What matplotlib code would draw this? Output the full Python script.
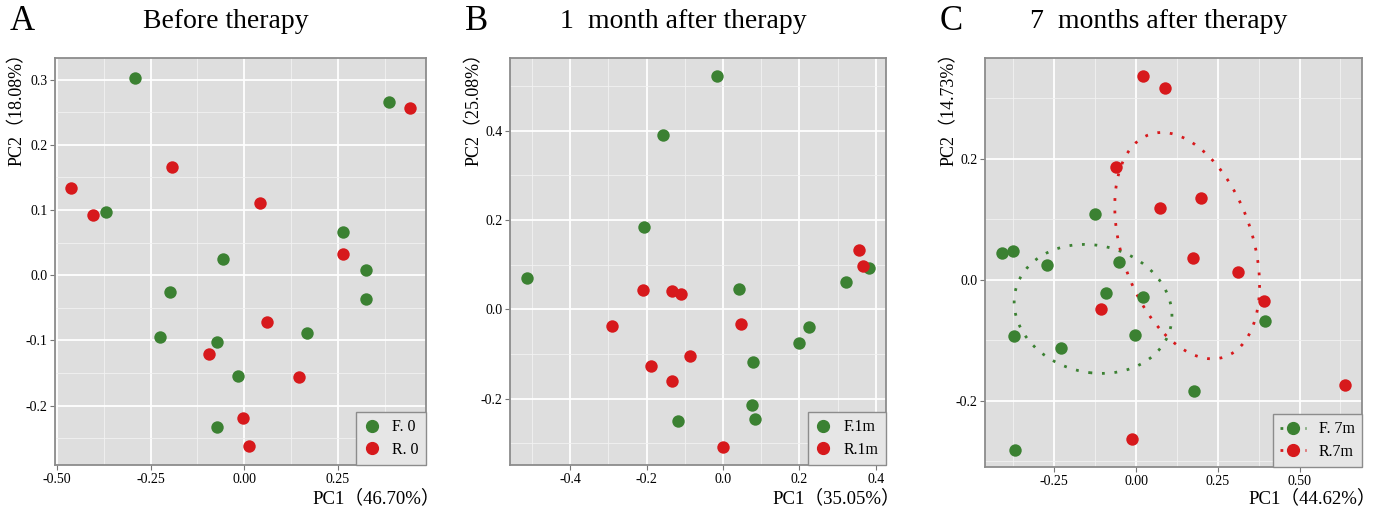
import matplotlib
matplotlib.use("Agg")
import matplotlib.pyplot as plt
import numpy as np
from matplotlib.lines import Line2D
from matplotlib.ticker import FixedLocator

plt.rcParams["font.family"] = ["Liberation Serif", "Noto Sans CJK SC"]

GREEN = "#3b8132"
RED = "#d7191c"
PANEL_BG = "#dedede"

# panel A: before therapy
a_f_x = [-0.291, 0.385, -0.370, 0.264, -0.056, 0.325, -0.197, 0.324, -0.225, -0.074, 0.167, -0.018, -0.072]
a_f_y = [0.303, 0.266, 0.0975, 0.066, 0.025, 0.0087, -0.0255, -0.036, -0.095, -0.103, -0.089, -0.154, -0.233]
a_r_x = [0.442, -0.192, -0.461, -0.404, 0.041, 0.264, 0.060, -0.093, 0.147, -0.002, 0.014]
a_r_y = [0.256, 0.166, 0.133, 0.093, 0.110, 0.032, -0.072, -0.1205, -0.156, -0.219, -0.2625]

# panel B: 1 month after therapy
b_f_x = [-0.0166, -0.158, -0.206, -0.513, 0.043, 0.382, 0.322, 0.225, 0.200, 0.078, 0.076, 0.083, -0.117]
b_f_y = [0.522, 0.391, 0.185, 0.070, 0.045, 0.092, 0.061, -0.039, -0.076, -0.118, -0.215, -0.247, -0.250]
b_r_x = [0.357, 0.367, -0.210, -0.133, -0.110, -0.291, 0.048, -0.0855, -0.189, -0.134, -0.001]
b_r_y = [0.132, 0.098, 0.044, 0.040, 0.034, -0.037, -0.032, -0.105, -0.127, -0.161, -0.309]

# panel C: 7 months after therapy
c_f_x = [-0.410, -0.375, -0.271, -0.126, -0.052, -0.091, 0.021, -0.004, -0.372, -0.229, 0.393, 0.177, -0.371]
c_f_y = [0.045, 0.047, 0.025, 0.109, 0.029, -0.022, -0.028, -0.092, -0.093, -0.113, -0.068, -0.185, -0.282]
c_r_x = [0.020, 0.089, -0.062, 0.199, 0.074, 0.175, 0.312, 0.392, -0.108, 0.639, -0.011]
c_r_y = [0.337, 0.317, 0.186, 0.136, 0.118, 0.036, 0.013, -0.036, -0.049, -0.175, -0.263]

panels = [
    dict(letter="A", title="Before therapy", labels=["F. 0", "R. 0"],
         f=(a_f_x, a_f_y), r=(a_r_x, a_r_y),
         xlab="PC1（46.70%）", ylab="PC2（18.08%）",
         xlim=(-0.505, 0.485), ylim=(-0.291, 0.333),
         xmaj=[-0.5, -0.25, 0.0, 0.25], xfmt="{:.2f}",
         xmin=[-0.375, -0.125, 0.125, 0.375],
         ymaj=[-0.2, -0.1, 0.0, 0.1, 0.2, 0.3], yfmt="{:.1f}",
         ymin=[-0.25, -0.15, -0.05, 0.05, 0.15, 0.25],
         box=(55, 58, 426, 465), ylab_x=17, ellipse=False),
    dict(letter="B", title="1  month after therapy", labels=["F.1m", "R.1m"],
         f=(b_f_x, b_f_y), r=(b_r_x, b_r_y),
         xlab="PC1（35.05%）", ylab="PC2（25.08%）",
         xlim=(-0.558, 0.427), ylim=(-0.349, 0.563),
         xmaj=[-0.4, -0.2, 0.0, 0.2, 0.4], xfmt="{:.1f}",
         xmin=[-0.5, -0.3, -0.1, 0.1, 0.3],
         ymaj=[-0.2, 0.0, 0.2, 0.4], yfmt="{:.1f}",
         ymin=[-0.3, -0.1, 0.1, 0.3, 0.5],
         box=(510, 58, 886, 465), ylab_x=474, ellipse=False),
    dict(letter="C", title="7  months after therapy", labels=["F. 7m", "R.7m"],
         f=(c_f_x, c_f_y), r=(c_r_x, c_r_y),
         xlab="PC1（44.62%）", ylab="PC2（14.73%）",
         xlim=(-0.462, 0.691), ylim=(-0.310, 0.367),
         xmaj=[-0.25, 0.0, 0.25, 0.5], xfmt="{:.2f}",
         xmin=[-0.375, -0.125, 0.125, 0.375, 0.625],
         ymaj=[-0.2, 0.0, 0.2], yfmt="{:.1f}",
         ymin=[-0.3, -0.1, 0.1, 0.3],
         box=(985, 58, 1362, 467), ylab_x=949, ellipse=True),
]

W, H = 1378, 513


def cov_ellipse(x, y, radius=1.0, n=120):
    pts = np.column_stack([x, y])
    mean = pts.mean(axis=0)
    cov = np.cov(pts, rowvar=False)
    vals, vecs = np.linalg.eigh(cov)
    t = np.linspace(0, 2 * np.pi, n)
    circle = np.column_stack([np.cos(t), np.sin(t)]) * np.sqrt(vals) * radius
    ell = circle @ vecs.T + mean
    return ell[:, 0], ell[:, 1]


fig = plt.figure(figsize=(W / 100, H / 100), dpi=100)

for p in panels:
    x0, y0, x1, y1 = p["box"]
    ax = fig.add_axes([x0 / W, 1 - y1 / H, (x1 - x0) / W, (y1 - y0) / H])
    ax.set_facecolor(PANEL_BG)
    ax.set_xlim(*p["xlim"])
    ax.set_ylim(*p["ylim"])
    ax.set_xticks(p["xmaj"])
    ax.set_xticklabels([p["xfmt"].format(v) for v in p["xmaj"]])
    ax.set_yticks(p["ymaj"])
    ax.set_yticklabels([p["yfmt"].format(v) for v in p["ymaj"]])
    ax.xaxis.set_minor_locator(FixedLocator(p["xmin"]))
    ax.yaxis.set_minor_locator(FixedLocator(p["ymin"]))
    ax.grid(which="major", color="white", linewidth=1.3)
    ax.grid(which="minor", color="#f2f2f2", linewidth=0.6)
    ax.set_axisbelow(True)
    ax.tick_params(which="major", length=3.5, width=0.8, color="#777777",
                   labelsize=10, pad=2)
    ax.tick_params(which="minor", length=0)
    for s in ax.spines.values():
        s.set_color("#8c8c8c")
        s.set_linewidth(1.3)

    fx, fy = p["f"]
    rx, ry = p["r"]
    if p["ellipse"]:
        ex, ey = cov_ellipse(fx, fy)
        ax.plot(ex, ey, color=GREEN, linestyle=(0, (1, 3.5)), linewidth=2)
        ex, ey = cov_ellipse(rx, ry)
        ax.plot(ex, ey, color=RED, linestyle=(0, (1, 3.5)), linewidth=2)
    ax.scatter(fx, fy, s=80, color=GREEN, linewidths=0, zorder=3)
    ax.scatter(rx, ry, s=80, color=RED, linewidths=0, zorder=3)

    ls = (0, (1, 3.5)) if p["ellipse"] else "none"
    handles = [
        Line2D([], [], color=c, marker="o", markersize=8.5, linestyle=ls, linewidth=2)
        for c in (GREEN, RED)
    ]
    leg = ax.legend(handles, p["labels"], loc="lower right", borderaxespad=0,
                    fontsize=11.5, handlelength=1.6 if p["ellipse"] else 1.0,
                    handletextpad=0.8, borderpad=0.45, labelspacing=0.4,
                    fancybox=False, framealpha=1)
    leg.get_frame().set_facecolor("#e6e6e6")
    leg.get_frame().set_edgecolor("#8c8c8c")
    leg.get_frame().set_linewidth(1.0)

    # axis labels placed like the ggplot export
    fig.text((x1 + 14) / W, 1 - 498 / H, p["xlab"], ha="right", va="center", fontsize=13.5)
    fig.text(p["ylab_x"] / W, 1 - (y0 - 14) / H, p["ylab"], ha="center", va="top",
             rotation=90, fontsize=13)

    # panel title and letter
    fig.text(((x0 + x1) / 2 - 15) / W, 1 - 22 / H, p["title"], ha="center", va="center",
             fontsize=20)
    fig.text((x0 - 45) / W, 1 - 22 / H, p["letter"], ha="left", va="center", fontsize=25)

fig.savefig("out.png", dpi=100)
